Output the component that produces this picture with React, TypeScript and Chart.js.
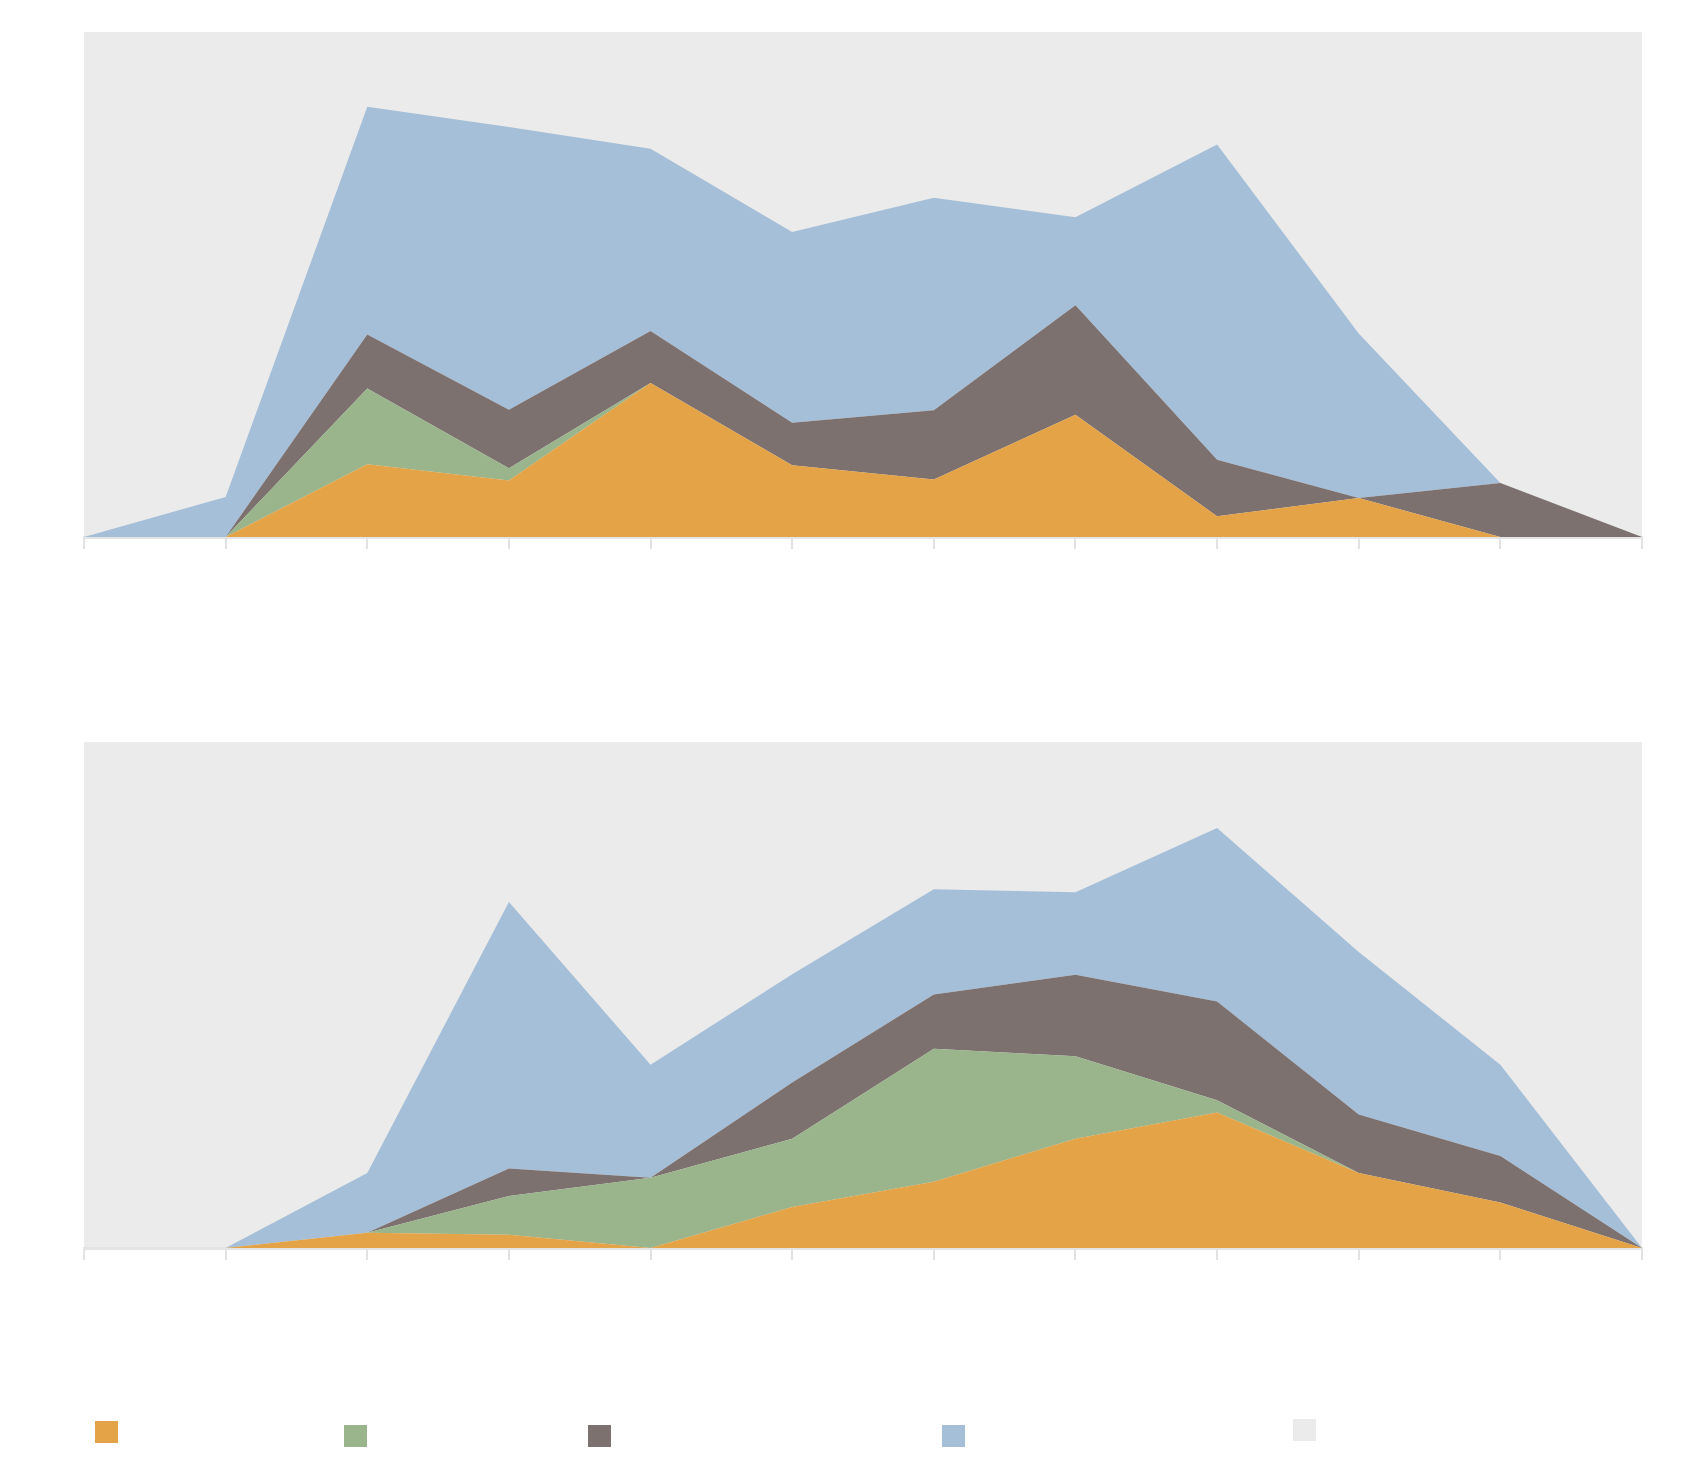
import React, { useEffect, useRef } from "react";
import { Chart, registerables } from "chart.js";

Chart.register(...registerables);

const categories = ["1", "2", "3", "4", "5", "6", "7", "8", "9", "10", "11", "12"];

// Panel 1 series (stacked, bottom to top)
const top_orange = [0, 0, 14.4, 11.2, 30.5, 14.2, 11.4, 24.2, 4.1, 7.7, 0, 0];
const top_green = [0, 0, 15.0, 2.4, 0, 0, 0, 0, 0, 0, 0, 0];
const top_brown = [0, 0, 10.7, 11.6, 10.3, 8.4, 13.7, 21.7, 11.2, 0, 10.7, 0];
const top_blue = [0, 7.9, 45.1, 56.0, 36.1, 37.8, 42.1, 17.4, 62.4, 32.6, 0, 0];

// Panel 2 series (stacked, bottom to top)
const bot_orange = [0, 0, 3.0, 2.6, 0, 8.1, 13.1, 21.6, 26.8, 14.8, 9.0, 0];
const bot_green = [0, 0, 0, 7.7, 13.9, 13.5, 26.3, 16.3, 2.4, 0, 0, 0];
const bot_brown = [0, 0, 0, 5.4, 0, 11.1, 10.7, 16.1, 19.5, 11.6, 9.2, 0];
const bot_blue = [0, 0, 11.8, 52.7, 22.3, 21.4, 20.8, 16.3, 34.3, 32.1, 18.0, 0];

const seriesColors = ["#E3A346", "#9AB48C", "#7D7170", "#A5BFD8"];
const legendColors = ["#E3A346", "#9AB48C", "#7D7170", "#A5BFD8", "#EBEBEB"];
const PLOT_BG = "#EBEBEB";

const bgPlugin = {
  id: "plotBg",
  beforeDraw(chart: any) {
    const { ctx, chartArea } = chart;
    ctx.save();
    ctx.fillStyle = PLOT_BG;
    ctx.fillRect(chartArea.left, chartArea.top, chartArea.right - chartArea.left, chartArea.bottom - chartArea.top);
    ctx.restore();
  },
};

function StackPanel({ series, top, padTop, padBottom }: { series: number[][]; top: number; padTop: number; padBottom: number }) {
  const ref = useRef<HTMLCanvasElement | null>(null);
  useEffect(() => {
    if (!ref.current) return;
    const chart = new Chart(ref.current, {
      type: "line",
      data: {
        labels: categories,
        datasets: series.map((d, i) => ({
          data: d,
          backgroundColor: seriesColors[i],
          borderColor: seriesColors[i],
          borderWidth: 0,
          pointRadius: 0,
          tension: 0,
          fill: i === 0 ? "origin" : "-1",
        })),
      },
      options: {
        animation: false,
        responsive: false,
        maintainAspectRatio: false,
        layout: { padding: { left: 84, right: 55, top: padTop, bottom: padBottom } },
        plugins: { legend: { display: false }, tooltip: { enabled: false } },
        scales: {
          x: {
            offset: false,
            grid: { display: true, drawOnChartArea: false, drawTicks: true, tickLength: 12, color: "#E2E2E2", lineWidth: 2 },
            border: { display: true, color: "#E4E4E4", width: 3 },
            ticks: { display: false },
            afterFit: (s: any) => { s.height = 14; },
          },
          y: {
            display: false,
            stacked: true,
            min: 0,
            max: 100,
          },
        },
      },
      plugins: [bgPlugin],
    });
    return () => chart.destroy();
  }, []);
  return (
    <canvas
      ref={ref}
      width={1697}
      height={580}
      style={{ position: "absolute", left: 0, top, width: 1697, height: 580 }}
    />
  );
}

export default function App() {
  const swatches = [
    { x: 95, y: 1421 },
    { x: 344, y: 1425 },
    { x: 588, y: 1425 },
    { x: 942, y: 1425 },
    { x: 1293, y: 1419 },
  ];
  return (
    <div style={{ position: "absolute", left: 0, top: 0, width: 1697, height: 1464, background: "#FFFFFF", overflow: "hidden" }}>
      <StackPanel series={[top_orange, top_green, top_brown, top_blue]} top={0} padTop={32} padBottom={29} />
      <StackPanel series={[bot_orange, bot_green, bot_brown, bot_blue]} top={700} padTop={42} padBottom={18} />
      {swatches.map((s, i) => (
        <div
          key={i}
          style={{ position: "absolute", left: s.x, top: s.y, width: 23, height: 22, background: legendColors[i] }}
        />
      ))}
    </div>
  );
}
